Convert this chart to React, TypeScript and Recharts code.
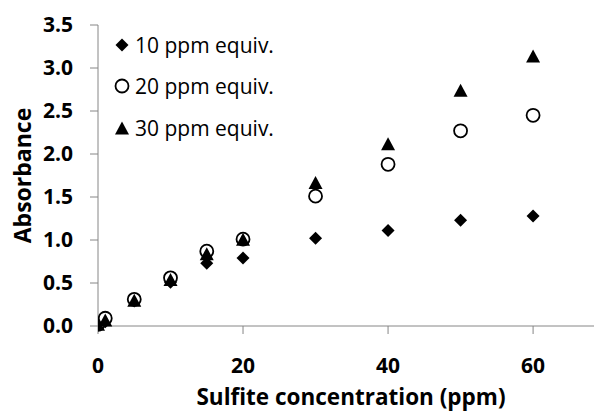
import React from "react";
import { ScatterChart, Scatter, XAxis, YAxis, Label } from "recharts";

// sulfite concentration (ppm)
const concentrations = [0, 1, 5, 10, 15, 20, 30, 40, 50, 60];
const equiv10 = [0.02, 0.05, 0.29, 0.51, 0.73, 0.79, 1.02, 1.11, 1.23, 1.28];
const equiv20 = [0.02, 0.09, 0.31, 0.56, 0.87, 1.01, 1.51, 1.88, 2.27, 2.45];
const equiv30 = [0.02, 0.07, 0.3, 0.54, 0.84, 1.01, 1.67, 2.12, 2.74, 3.14];

const xTicks = [0, 20, 40, 60];
const yTicks = [0, 0.5, 1, 1.5, 2, 2.5, 3, 3.5];

const seriesNames = ["10 ppm equiv.", "20 ppm equiv.", "30 ppm equiv."];

const toPoints = (ys: number[]) => concentrations.map((x, i) => ({ x, y: ys[i] }));

const AXIS = "#868686";
const FONT = "'Open Sans', 'DejaVu Sans', sans-serif";

function Diamond({ cx, cy }: any) {
  const s = 6.5;
  return <polygon points={`${cx},${cy - s} ${cx + s},${cy} ${cx},${cy + s} ${cx - s},${cy}`} fill="#000" />;
}

function Ring({ cx, cy }: any) {
  return <circle cx={cx} cy={cy} r={6.5} fill="#fff" stroke="#000" strokeWidth={1.8} />;
}

function Tri({ cx, cy }: any) {
  const w = 7, h = 6.5;
  return <polygon points={`${cx},${cy - h} ${cx + w},${cy + h} ${cx - w},${cy + h}`} fill="#000" />;
}

const shapes = [Diamond, Ring, Tri];

// legend sits inside the plot, top left
function LegendBox() {
  return (
    <div style={{ position: "absolute", left: 112, top: 24, fontFamily: FONT, fontSize: 21, color: "#000" }}>
      {seriesNames.map((name, i) => {
        const Shape = shapes[i];
        return (
          <div key={name} style={{ display: "flex", alignItems: "center", height: 41.5 }}>
            <svg width={20} height={20} style={{ marginRight: 3 }}>
              <Shape cx={10} cy={10} />
            </svg>
            <span>{name}</span>
          </div>
        );
      })}
    </div>
  );
}

function YTitle({ viewBox }: any) {
  const x = viewBox.x + 22;
  const y = viewBox.y + viewBox.height / 2;
  return (
    <text x={x} y={y} transform={`rotate(-90 ${x} ${y})`} textAnchor="middle" dominantBaseline="central"
      fontFamily={FONT} fontWeight="bold" fontSize={23} fill="#000">
      Absorbance
    </text>
  );
}

function XTitle({ viewBox }: any) {
  const x = viewBox.x + viewBox.width / 2 + 5;
  const y = viewBox.y + 79;
  return (
    <text x={x} y={y} textAnchor="middle"
      fontFamily={FONT} fontWeight="bold" fontSize={22.5} fill="#000">
      Sulfite concentration (ppm)
    </text>
  );
}

export default function App() {
  const tickStyle = { fontFamily: FONT, fontWeight: "bold", fontSize: 21, fill: "#000" };
  return (
    <div style={{ position: "absolute", left: 0, top: 0, width: 596, height: 412, background: "#fff" }}>
      <ScatterChart width={596} height={412} margin={{ top: 25, right: 2, bottom: 0, left: 0 }}>
        <XAxis
          type="number"
          dataKey="x"
          domain={[0, 68.4]}
          ticks={xTicks}
          interval={0}
          allowDataOverflow
          height={86}
          stroke={AXIS}
          tickSize={8}
          tickMargin={24}
          tick={tickStyle}
          tickLine={{ stroke: AXIS }}
        >
          <Label content={<XTitle />} />
        </XAxis>
        <YAxis
          type="number"
          dataKey="y"
          domain={[0, 3.5]}
          ticks={yTicks}
          interval={0}
          width={98}
          stroke={AXIS}
          tickSize={8}
          tickMargin={17}
          tick={tickStyle}
          tickLine={{ stroke: AXIS }}
          tickFormatter={(v: number) => v.toFixed(1)}
        >
          <Label content={<YTitle />} />
        </YAxis>
        <Scatter name={seriesNames[0]} data={toPoints(equiv10)} shape={<Diamond />} isAnimationActive={false} />
        <Scatter name={seriesNames[1]} data={toPoints(equiv20)} shape={<Ring />} isAnimationActive={false} />
        <Scatter name={seriesNames[2]} data={toPoints(equiv30)} shape={<Tri />} isAnimationActive={false} />
      </ScatterChart>
      <LegendBox />
    </div>
  );
}
